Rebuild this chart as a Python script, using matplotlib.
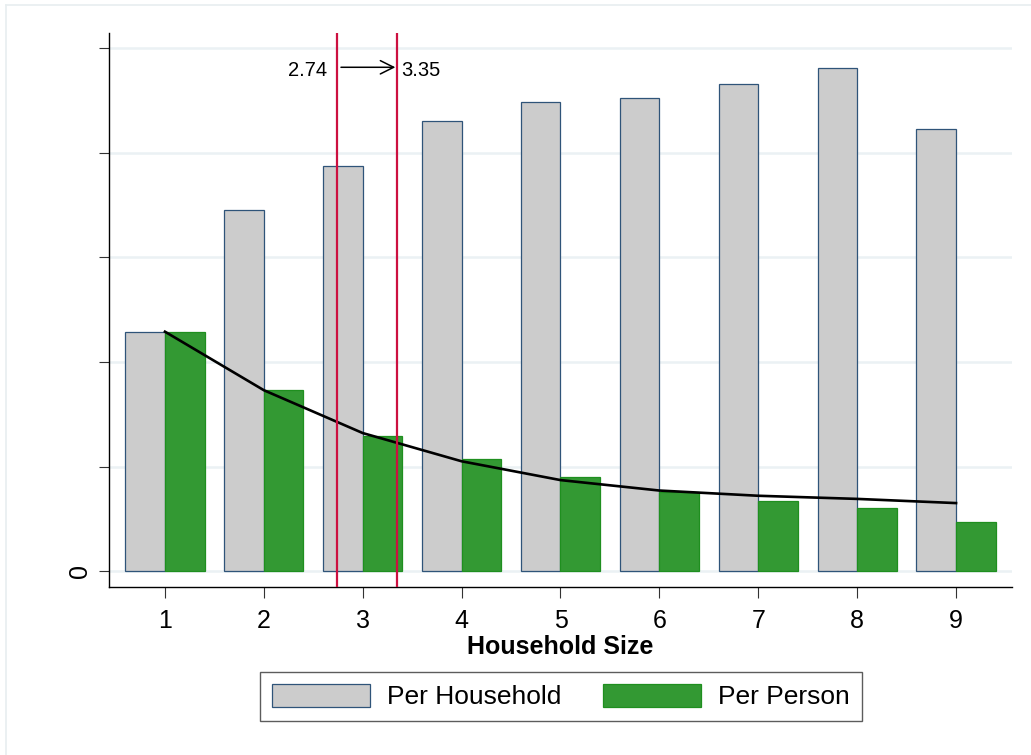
import numpy as np
import matplotlib.pyplot as plt
from matplotlib.lines import Line2D

plt.rcParams['font.family'] = ['Liberation Sans', 'DejaVu Sans']

# household size categories
sizes = [1, 2, 3, 4, 5, 6, 7, 8, 9]
# values (one unit = one y tick)
per_household = [2.29, 3.45, 3.88, 4.31, 4.49, 4.53, 4.66, 4.81, 4.23]
per_person = [2.29, 1.73, 1.29, 1.07, 0.90, 0.76, 0.67, 0.60, 0.47]
fitted = [2.29, 1.73, 1.32, 1.05, 0.87, 0.77, 0.72, 0.69, 0.65]
y_ticks = [0, 1, 2, 3, 4, 5]
mean_before = 2.74
mean_after = 3.35

fig = plt.figure(figsize=(10.31, 7.55), dpi=100)
ax = fig.add_axes([109/1031, 1 - 587/755, (1012 - 109)/1031, (587 - 33)/755])

x = np.array(sizes)
ax.bar(x, per_household, width=-0.4, align='edge', color='#cccccc',
       edgecolor='#2f5479', linewidth=0.9, label='Per Household', zorder=3)
ax.bar(x, per_person, width=0.4, align='edge', color='#339933',
       edgecolor='#1f8f1f', linewidth=0.9, label='Per Person', zorder=3)
ax.plot(x, fitted, color='black', linewidth=1.9, zorder=4)

ax.axvline(mean_before, color='#cc1040', linewidth=1.6, zorder=5)
ax.axvline(mean_after, color='#cc1040', linewidth=1.6, zorder=5)

y_txt = 4.79
ax.annotate('', xy=(mean_after - 0.02, y_txt + 0.03), xytext=(mean_before + 0.04, y_txt + 0.03),
            arrowprops=dict(arrowstyle='->', color='black', lw=1.1, mutation_scale=24,
                            shrinkA=0, shrinkB=0), zorder=6)
ax.text(mean_before - 0.1, y_txt, '2.74', ha='right', va='center', fontsize=14.5)
ax.text(mean_after + 0.04, y_txt, '3.35', ha='left', va='center', fontsize=14.5)

ax.set_xlim(0.434, 9.566)
ax.set_ylim(-0.153, 5.148)
ax.set_xticks(sizes)
ax.set_yticks(y_ticks)
ax.set_yticklabels(['0', '', '', '', '', ''], rotation=90, va='center')
ax.tick_params(axis='x', labelsize=18, length=8, width=0.8, pad=8, color='#333333')
ax.tick_params(axis='y', labelsize=18, length=7.5, width=0.8, pad=4.5, color='#333333')
ax.yaxis.grid(True, color='#ebf1f4', linewidth=1.8, zorder=0)
ax.set_axisbelow(True)
for side in ['top', 'right']:
    ax.spines[side].set_visible(False)
for side in ['left', 'bottom']:
    ax.spines[side].set_linewidth(1.0)
    ax.spines[side].set_color('black')

ax.set_xlabel('Household Size', fontsize=18, fontweight='bold', labelpad=1)

leg = fig.legend(loc='center', bbox_to_anchor=(561/1031, 1 - 696.5/755), ncol=2,
                 fontsize=19, frameon=True, fancybox=False, edgecolor='#333333',
                 handlelength=3.7, handleheight=1.0, handletextpad=0.64,
                 columnspacing=1.6, borderpad=0.45, borderaxespad=0)
leg.get_frame().set_linewidth(1.0)

# faint outer frame
fig.add_artist(Line2D([6/1031, 6/1031], [0, 1 - 5/755], color='#e8eef0', lw=1.2))
fig.add_artist(Line2D([6/1031, 1], [1 - 5/755, 1 - 5/755], color='#e8eef0', lw=1.2))

fig.savefig('out.png', dpi=100)
